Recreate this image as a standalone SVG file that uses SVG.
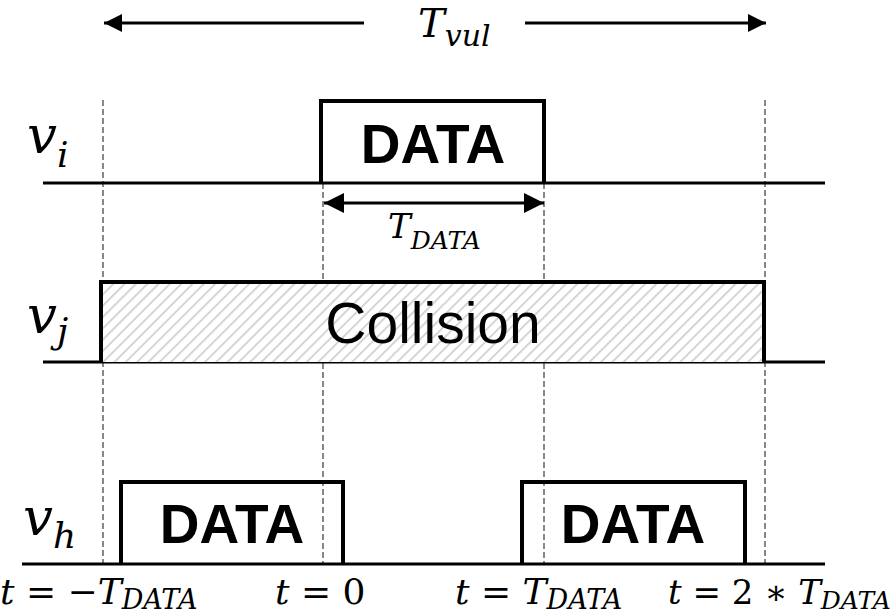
<svg xmlns="http://www.w3.org/2000/svg" width="894" height="615" viewBox="0 0 894 615">
<style>
.base{stroke:#000;stroke-width:3;fill:none}
.guide{stroke:#888;stroke-width:2;stroke-dasharray:6 3;fill:none}
.box{stroke:#000;stroke-width:4;fill:none}
.data{font-family:"Liberation Sans",Arial,sans-serif;font-weight:bold;font-size:55px;text-anchor:middle}
.math{font-family:"DejaVu Serif","Liberation Serif",serif;font-style:italic}
.up{font-style:normal}
</style>
<defs>
<pattern id="hatch" patternUnits="userSpaceOnUse" width="8" height="8" patternTransform="rotate(45)">
<rect width="8" height="8" fill="#fff"/>
<line x1="0" y1="0" x2="0" y2="8" stroke="#d0d0d0" stroke-width="3.5"/>
</pattern>
<marker id="ah" viewBox="0 0 10 10" refX="10" refY="5" markerWidth="20" markerHeight="20" markerUnits="userSpaceOnUse" orient="auto-start-reverse">
<path d="M0,0 L10,5 L0,10 Z" fill="#000"/>
</marker>
<marker id="ahBig" viewBox="0 0 10 10" refX="10" refY="5" markerWidth="18" markerHeight="27" markerUnits="userSpaceOnUse" orient="auto-start-reverse">
<path d="M0,0 L10,5 L0,10 Z" fill="#000"/>
</marker>
</defs>

<g id="connectors">
<line class="base" x1="104" y1="23" x2="364" y2="23" marker-start="url(#ahBig)"/>
<line class="base" x1="525" y1="23" x2="766" y2="23" marker-end="url(#ahBig)"/>
<line class="guide" x1="103" y1="100" x2="103" y2="564"/>
<line class="guide" x1="323" y1="183" x2="323" y2="564"/>
<line class="guide" x1="544" y1="183" x2="544" y2="564"/>
<line class="guide" x1="765" y1="100" x2="765" y2="564"/>
<line class="base" x1="43" y1="183" x2="825" y2="183"/>
<line class="base" x1="43" y1="362" x2="825" y2="362"/>
<line class="base" x1="22" y1="564" x2="825" y2="564"/>
<line class="base" x1="324" y1="203" x2="544" y2="203" stroke-width="3" marker-start="url(#ah)" marker-end="url(#ah)"/>
</g>

<g id="t-vul">
<text class="math" x="418" y="37" font-size="40">T<tspan font-size="30" dy="9">vul</tspan></text>
</g>

<g id="vi-data">
<path class="box" d="M321,183 V101 H544 V183"/>
<text class="data" x="433" y="163">DATA</text>
</g>
<g id="t-data-label">
<text class="math" x="388" y="238" font-size="34">T<tspan font-size="25" dy="11">DATA</tspan></text>
</g>

<g id="vj-collision">
<rect x="101" y="282" width="663" height="80" fill="url(#hatch)" stroke="none"/>
<path class="box" d="M101,362 V282 H764 V362"/>
<text x="433" y="343" font-family="&quot;Liberation Sans&quot;,Arial,sans-serif" font-size="57" text-anchor="middle">Collision</text>
</g>

<g id="vh-data1">
<path class="box" d="M121,564 V482 H343 V564"/>
<text class="data" x="232" y="543">DATA</text>
</g>
<g id="vh-data2">
<path class="box" d="M522,564 V482 H745 V564"/>
<text class="data" x="633" y="543">DATA</text>
</g>

<g id="row-labels">
<text class="math" x="27" y="153" font-size="53">v<tspan font-size="36" dy="14">i</tspan></text>
<text class="math" x="27" y="333" font-size="53">v<tspan font-size="36" dy="10">j</tspan></text>
<text class="math" x="23" y="535" font-size="53">v<tspan font-size="36" dy="13">h</tspan></text>
</g>

<g id="time-labels">
<text class="math" x="0" y="604" font-size="36">t<tspan class="up"> = −</tspan>T<tspan font-size="27" dy="5">DATA</tspan></text>
<text class="math" x="275" y="604" font-size="36">t<tspan class="up"> = 0</tspan></text>
<text class="math" x="455" y="604" font-size="36">t<tspan class="up"> = </tspan>T<tspan font-size="27" dy="5">DATA</tspan></text>
<text class="math" x="668" y="604" font-size="34">t<tspan class="up"> = 2 ∗ </tspan>T<tspan font-size="25" dy="5">DATA</tspan></text>
</g>
</svg>
